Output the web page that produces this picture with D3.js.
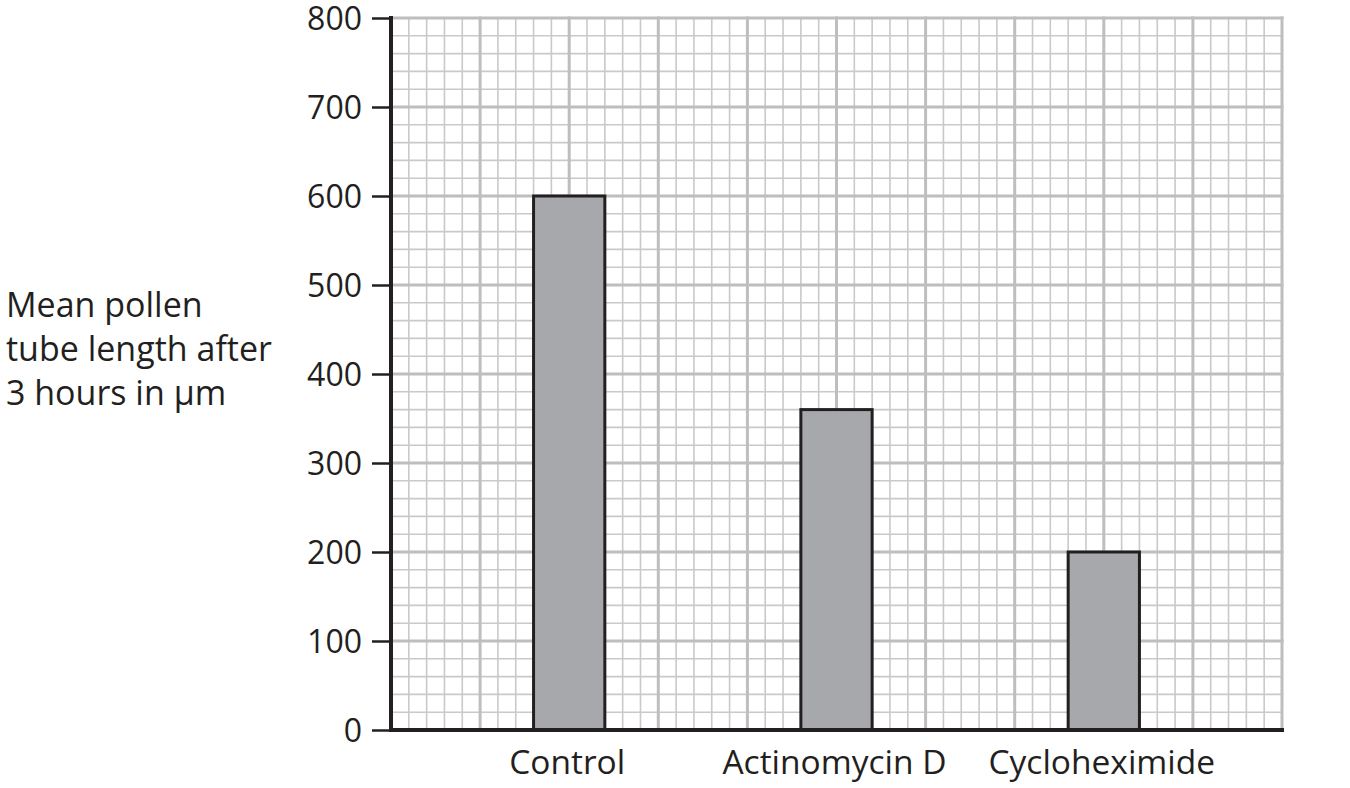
<!DOCTYPE html>
<html>
<head>
<meta charset="utf-8">
<script src="https://cdn.jsdelivr.net/npm/d3@7"></script>
<style>
  html, body { margin: 0; padding: 0; background: #fff; }
  svg { display: block; }
  text { font-family: "Open Sans", sans-serif; fill: #231f20; }
</style>
</head>
<body>
<svg id="chart" width="1350" height="788"></svg>
<script>
const categories = ["Control", "Actinomycin D", "Cycloheximide"];
const values = [600, 360, 200];
const yTicks = [0, 100, 200, 300, 400, 500, 600, 700, 800];
const yLabelLines = ["Mean pollen", "tube length after", "3 hours in \u00b5m"];

(function () {
const svg = d3.select("#chart");
const mLeft = 391, mRight = 1282, mTop = 18, mBottom = 730;

const y = d3.scaleLinear().domain([0, 800]).range([mBottom, mTop]);
// grid scale in "major squares" across the x extent
const gx = d3.scaleLinear().domain([0, 10]).range([mLeft, mRight]);
const x = d3.scaleBand().domain(categories).range([mLeft, mRight])
  .paddingInner(1 - 0.8 / 3).paddingOuter(1.6 / 3);

// grid
const grid = svg.append("g");
const minorX = d3.range(0, 50.001, 1).map(i => i / 5);
const minorY = d3.range(0, 800.001, 20);
grid.selectAll("line.vminor").data(minorX.filter((d, i) => i % 5 !== 0)).join("line")
  .attr("x1", d => gx(d)).attr("x2", d => gx(d)).attr("y1", mTop).attr("y2", mBottom)
  .attr("stroke", "#c9c9c9").attr("stroke-width", 1.6);
grid.selectAll("line.hminor").data(minorY.filter(d => d % 100 !== 0)).join("line")
  .attr("x1", mLeft).attr("x2", mRight).attr("y1", d => y(d)).attr("y2", d => y(d))
  .attr("stroke", "#c9c9c9").attr("stroke-width", 1.6);
grid.selectAll("line.vmajor").data(d3.range(1, 11)).join("line")
  .attr("x1", d => gx(d)).attr("x2", d => gx(d)).attr("y1", mTop - 1.5).attr("y2", mBottom)
  .attr("stroke", "#bebebe").attr("stroke-width", 3);
grid.selectAll("line.hmajor").data(yTicks.filter(d => d > 0)).join("line")
  .attr("x1", mLeft).attr("x2", mRight + 1.5).attr("y1", d => y(d)).attr("y2", d => y(d))
  .attr("stroke", "#bebebe").attr("stroke-width", 3);

// bars
svg.append("g").selectAll("rect").data(categories).join("rect")
  .attr("x", d => x(d))
  .attr("width", x.bandwidth())
  .attr("y", (d, i) => y(values[i]))
  .attr("height", (d, i) => y(0) - y(values[i]))
  .attr("fill", "#a7a8ab")
  .attr("stroke", "#231f20")
  .attr("stroke-width", 3);

// axes
const yAxis = d3.axisLeft(y).tickValues(yTicks).tickSize(19).tickPadding(10).tickFormat(d3.format("d"));
const ya = svg.append("g").attr("transform", `translate(${mLeft},0)`).call(yAxis);
ya.select(".domain").remove();
ya.selectAll(".tick line").attr("stroke", "#231f20").attr("stroke-width", 2.5);
ya.selectAll(".tick text").attr("font-size", 32).attr("font-family", "Open Sans, sans-serif").attr("fill", "#231f20").attr("dy", "0.36em");

svg.append("line").attr("x1", mLeft).attr("x2", mLeft).attr("y1", mTop - 2).attr("y2", mBottom + 2)
  .attr("stroke", "#231f20").attr("stroke-width", 4);
svg.append("line").attr("x1", mLeft - 2).attr("x2", mRight + 2).attr("y1", mBottom).attr("y2", mBottom)
  .attr("stroke", "#231f20").attr("stroke-width", 4);

// x labels
svg.append("g").selectAll("text").data(categories).join("text")
  .attr("x", d => x(d) + x.bandwidth() / 2 - 2)
  .attr("y", 774)
  .attr("text-anchor", "middle")
  .attr("font-size", 33.5)
  .text(d => d);

// y label
svg.append("g").selectAll("text").data(yLabelLines).join("text")
  .attr("x", 6)
  .attr("y", (d, i) => 317 + i * 44)
  .attr("font-size", 34)
  .text(d => d);
})();
</script>
</body>
</html>
